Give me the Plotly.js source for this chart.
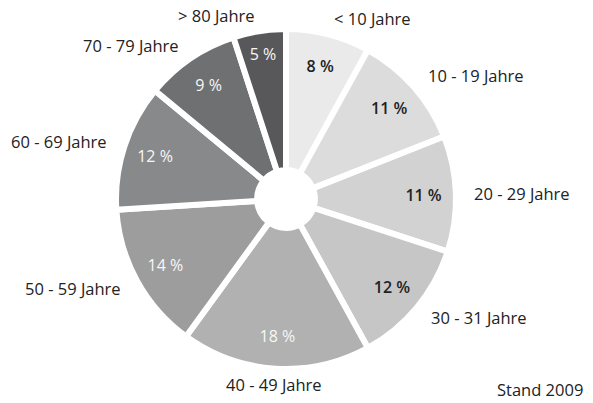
<!DOCTYPE html>
<html>
<head>
<meta charset="utf-8">
<script src="https://cdn.plot.ly/plotly-3.0.1.min.js"></script>
<style>html,body{margin:0;padding:0;background:#fff;}#chart{width:593px;height:403px;}</style>
</head>
<body>
<div id="chart"></div>
<script>
// Data
const categories = ['< 10 Jahre', '10 - 19 Jahre', '20 - 29 Jahre', '30 - 31 Jahre', '40 - 49 Jahre', '50 - 59 Jahre', '60 - 69 Jahre', '70 - 79 Jahre', '> 80 Jahre'];
const shares = [8, 11, 11, 12, 18, 14, 12, 9, 5];
const note = 'Stand 2009';

// Styles
const sliceColors = ['#e9eae9', '#dcdcdc', '#d2d2d2', '#c6c6c6', '#b1b1b1', '#9d9d9e', '#88898a', '#6f7071', '#58585a'];
const textColors = ['#222222', '#222222', '#222222', '#222222', '#f7f7f7', '#f7f7f7', '#f7f7f7', '#f7f7f7', '#f7f7f7'];
const textWeights = [600, 600, 600, 600, 400, 400, 400, 400, 400];

const W = 593, H = 403;
const CX = 286, CY = 199, R = 170, LR = 186;
const FONT = 'Open Sans, Noto Sans, sans-serif';
const domain = { x: [(CX - R) / W, (CX + R) / W], y: [(H - CY - R) / H, (H - CY + R) / H] };

const pie = {
  type: 'pie',
  values: shares,
  labels: categories,
  sort: false,
  direction: 'clockwise',
  rotation: 0,
  hole: 0.17,
  marker: { colors: sliceColors, line: { color: '#ffffff', width: 6 } },
  textinfo: 'none',
  domain: domain,
  hoverinfo: 'label+percent',
  showlegend: false
};

// transparent ring carrying the percentage texts further out in each slice
const ring = {
  type: 'pie',
  values: shares,
  labels: categories,
  sort: false,
  direction: 'clockwise',
  rotation: 0,
  hole: 0.62,
  marker: { colors: shares.map(() => 'rgba(0,0,0,0)'), line: { width: 0 } },
  texttemplate: '%{value} %',
  textposition: 'inside',
  insidetextorientation: 'horizontal',
  textfont: { family: FONT, size: 16, color: textColors, weight: textWeights },
  domain: domain,
  hoverinfo: 'skip',
  showlegend: false
};

const total = shares.reduce((a, b) => a + b, 0);
const annotations = [];
let cum = 0;
categories.forEach((c, i) => {
  const mid = (cum + shares[i] / 2) / total * 2 * Math.PI;
  cum += shares[i];
  const s = Math.sin(mid), co = Math.cos(mid);
  const px = CX + LR * s, py = CY - LR * co;
  annotations.push({
    text: c, xref: 'paper', yref: 'paper', x: px / W, y: 1 - py / H,
    showarrow: false,
    xanchor: Math.abs(s) < 0.1 ? 'center' : (s > 0 ? 'left' : 'right'),
    yanchor: 'middle',
    font: { family: FONT, size: 16.5, color: '#222222' }
  });
});
annotations.push({
  text: note, xref: 'paper', yref: 'paper', x: 585 / W, y: 1 - 389 / H,
  showarrow: false, xanchor: 'right', yanchor: 'middle',
  font: { family: FONT, size: 16.5, color: '#222222' }
});

const layout = {
  width: W, height: H,
  margin: { l: 0, r: 0, t: 0, b: 0 },
  paper_bgcolor: '#ffffff',
  plot_bgcolor: '#ffffff',
  showlegend: false,
  annotations: annotations
};

Plotly.newPlot('chart', [pie, ring], layout, { displayModeBar: false, staticPlot: true });
</script>
</body>
</html>
